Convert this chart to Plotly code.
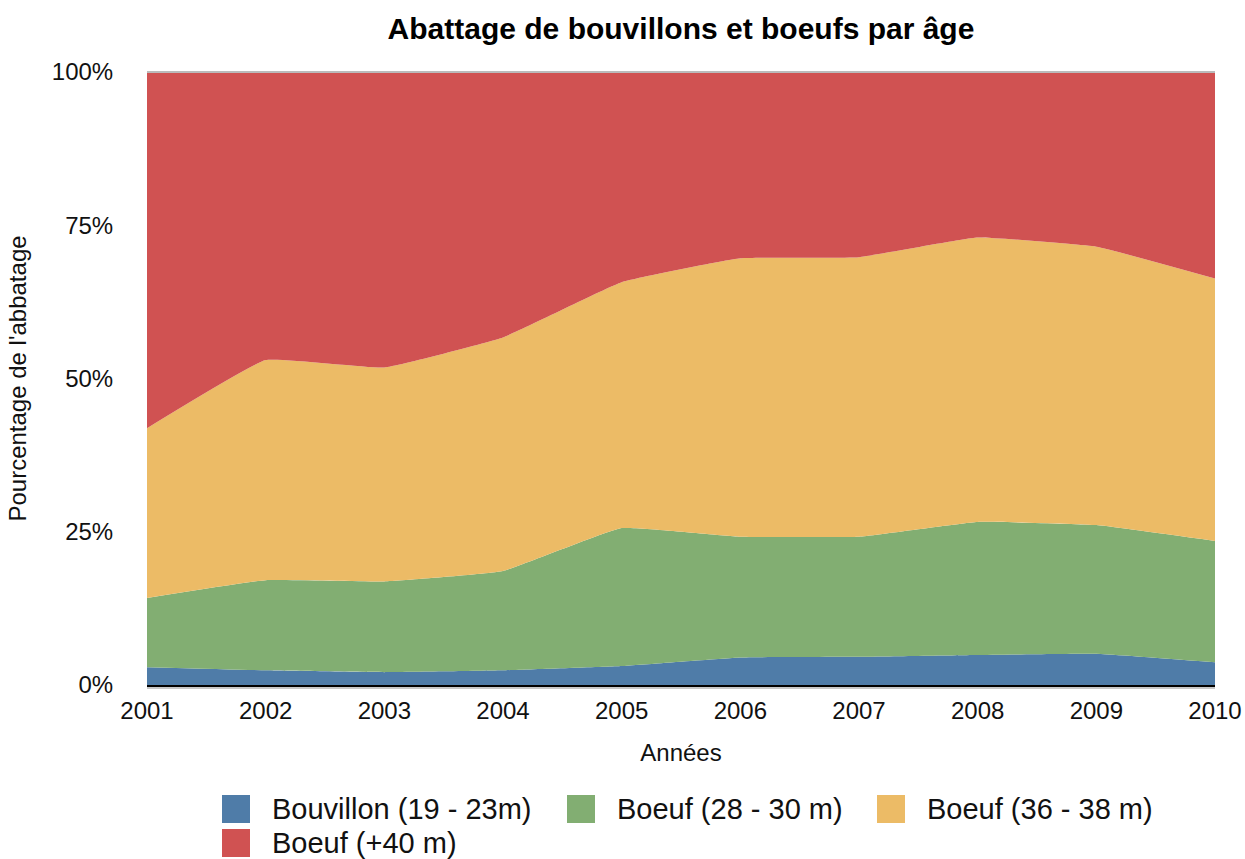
import plotly.graph_objects as go

years = [2001, 2002, 2003, 2004, 2005, 2006, 2007, 2008, 2009, 2010]
series_names = ["Bouvillon (19 - 23m)", "Boeuf (28 - 30 m)", "Boeuf (36 - 38 m)", "Boeuf (+40 m)"]
bouvillon_19_23 = [2.9, 2.4, 2.1, 2.4, 3.1, 4.5, 4.6, 4.9, 5.1, 3.7]
boeuf_28_30 = [11.3, 14.7, 14.8, 16.2, 22.5, 19.7, 19.6, 21.7, 21.0, 19.8]
boeuf_36_38 = [27.7, 35.9, 34.9, 38.1, 40.1, 45.4, 45.6, 46.4, 45.4, 42.8]
boeuf_40 = [58.1, 47.0, 48.2, 43.3, 34.3, 30.4, 30.2, 27.0, 28.5, 33.7]
y_ticks = [0, 25, 50, 75, 100]
y_tick_labels = ["0%", "25%", "50%", "75%", "100%"]

colors = ["#4F7CA8", "#82AE72", "#ECBB66", "#D05252"]
values = [bouvillon_19_23, boeuf_28_30, boeuf_36_38, boeuf_40]

FONT = "Liberation Sans, Arial, Helvetica, sans-serif"

# figure geometry (body margin removed via post_script)
W, H = 1245, 859
L, R, T, B = 147, 30, 72, 174
PW, PH = W - L - R, H - T - B


def px_x(page_x):
    return (page_x - L) / PW


def px_y(page_y):
    return (H - B - page_y) / PH


fig = go.Figure()
for name, vals, col in zip(series_names, values, colors):
    fig.add_trace(go.Scatter(
        x=years, y=vals, name=name, stackgroup="one",
        mode="lines", line=dict(width=0, color=col, shape="spline", smoothing=0.3),
        fillcolor=col, showlegend=False, hoverinfo="x+y+name",
    ))

# top border line
fig.add_shape(type="line", xref="paper", yref="paper", x0=0, x1=1, y0=1, y1=1,
              line=dict(color="#BBBBBB", width=2))
# soft shadow under x axis
fig.add_shape(type="line", xref="paper", yref="paper", x0=0, x1=1,
              y0=px_y(688), y1=px_y(688), line=dict(color="#C8C8C8", width=2))

# manual legend (large square swatches)
legend_pos = [(222, 809), (567, 809), (877, 809), (222, 843)]
for (sx, sy), name, col in zip(legend_pos, series_names, colors):
    fig.add_shape(type="rect", xref="paper", yref="paper",
                  x0=px_x(sx), x1=px_x(sx + 28), y0=px_y(sy + 14), y1=px_y(sy - 14),
                  fillcolor=col, line=dict(width=0))
    fig.add_annotation(text=name, xref="paper", yref="paper",
                       x=px_x(sx + 48), y=px_y(sy), xanchor="left", yanchor="middle",
                       showarrow=False, font=dict(size=29, family=FONT, color="#111111"))

fig.update_layout(
    width=W, height=H,
    margin=dict(l=L, r=R, t=T, b=B, pad=0, autoexpand=False),
    paper_bgcolor="white", plot_bgcolor="white",
    font=dict(family=FONT, color="#111111", size=24),
    showlegend=False,
    title=dict(text="<b>Abattage de bouvillons et boeufs par âge</b>",
               x=0.5, xref="paper", xanchor="center",
               y=1 - 28 / H, yref="container", yanchor="middle",
               font=dict(size=30, family=FONT, color="#000000")),
    xaxis=dict(range=[2001, 2010], tickmode="array", tickvals=years,
               ticktext=[str(y) for y in years], showgrid=False, zeroline=False,
               showline=True, linecolor="#000000", linewidth=2, automargin=False,
               ticks="outside", ticklen=3, tickcolor="rgba(0,0,0,0)",
               tickfont=dict(size=24), ticklabeloverflow="allow",
               title=dict(text="Années", font=dict(size=24), standoff=21)),
    yaxis=dict(range=[0, 100], tickmode="array", tickvals=y_ticks,
               ticktext=y_tick_labels, showgrid=False, zeroline=False,
               showline=False, automargin=False,
               ticks="outside", ticklen=28, tickcolor="rgba(0,0,0,0)",
               tickfont=dict(size=24),
               title=dict(text="Pourcentage de l'abbatage", font=dict(size=24), standoff=18)),
)

fig.write_html("out.html", config={"displayModeBar": False},
               post_script="document.body.style.margin='0';document.body.style.overflow='hidden';")
